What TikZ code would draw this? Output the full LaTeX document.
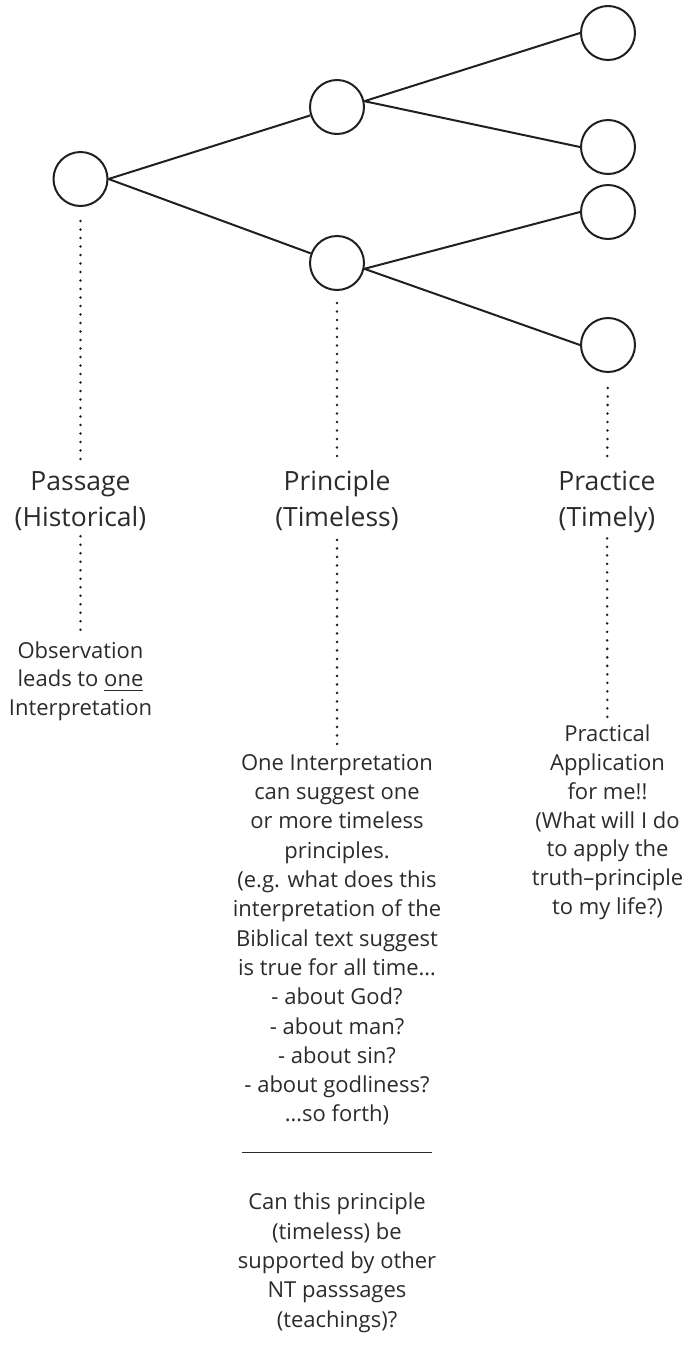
\documentclass[tikz,border=0pt]{standalone}
\usepackage{fontspec}
\setmainfont{Open Sans}
\definecolor{ink}{HTML}{231F20}
\definecolor{txt}{HTML}{2B2B2B}
\newcommand\undl[1]{{\setbox0\hbox{#1}\rlap{\rule[-4.2pt]{\wd0}{1pt}}\box0}}
\begin{document}
\begin{tikzpicture}[x=1pt,y=-1pt,
  bub/.style={circle,minimum size=54pt,inner sep=0pt,draw=ink,line width=2pt},
  edge/.style={draw=ink,line width=2pt},
  dots/.style={draw=ink,line width=2.8pt,line cap=round,dash pattern=on 0pt off 8.5pt},
  head/.style={font=\fontsize{26.5}{35.3}\selectfont,text=txt,align=center,inner sep=0pt,outer sep=0pt,anchor=base},
  desc/.style={text=txt,align=center,inner sep=0pt,outer sep=0pt,anchor=base}]
\useasboundingbox (0,0) rectangle (685,1355);
% bubbles
\node[bub] (root) at (80.5,179) {};
\node[bub] (mu) at (337,107) {};
\node[bub] (ml) at (337,263) {};
\node[bub] (r1) at (608,33) {};
\node[bub] (r2) at (608,147) {};
\node[bub] (r3) at (608,212) {};
\node[bub] (r4) at (608,345) {};
% branches
\draw[edge] (root.east) -- (mu);
\draw[edge] (root.east) -- (ml);
\draw[edge] (mu.12) -- (r1.west);
\draw[edge] (mu.12) -- (r2.west);
\draw[edge] (ml.-12) -- (r3.west);
\draw[edge] (ml.-12) -- (r4.west);
% headings (anchor base = last line's baseline)
\node[head] (hpas) at (80.5,526) {Passage\\(Historical)};
\node[head] (hpri) at (337,526) {Principle\\(Timeless)};
\node[head] (hpra) at (607,526) {Practice\\(Timely)};
% descriptions
\node[desc,font=\fontsize{22}{28.4}\selectfont] (dobs) at (80.5,715) {Observation\\leads to \undl{one}\\Interpretation};
\node[desc,font=\fontsize{22}{29.3}\selectfont] (dpri) at (337,1327) {One Interpretation\\can suggest one\\or more timeless\\principles.\\(e.g. what does this\\interpretation of the\\Biblical text suggest\\is true for all time…\\- about God?\\- about man?\\- about sin?\\- about godliness?\\…so forth)\\\rule[-2pt]{190pt}{1pt}\\[29.3pt]Can this principle\\(timeless) be\\supported by other\\NT passsages\\(teachings)?};
\node[desc,font=\fontsize{22}{28.8}\selectfont] (dpra) at (607.5,914.5) {Practical\\Application\\for me!!\\(What will I do\\to apply the\\truth–principle\\to my life?)};
% dotted leaders
\draw[dots,shorten <=14pt,shorten >=10pt] (root) -- (hpas);
\draw[dots,shorten <=6pt,shorten >=4pt] (hpas) -- (dobs);
\draw[dots,shorten <=12pt,shorten >=11pt] (ml) -- (hpri);
\draw[dots,shorten <=9.7pt,shorten >=4.5pt] (hpri) -- (dpri);
\draw[dots,shorten <=15pt,shorten >=10pt] (r4) -- (hpra);
\draw[dots,shorten <=6pt,shorten >=7.7pt] (hpra) -- (dpra);
\end{tikzpicture}
\end{document}
